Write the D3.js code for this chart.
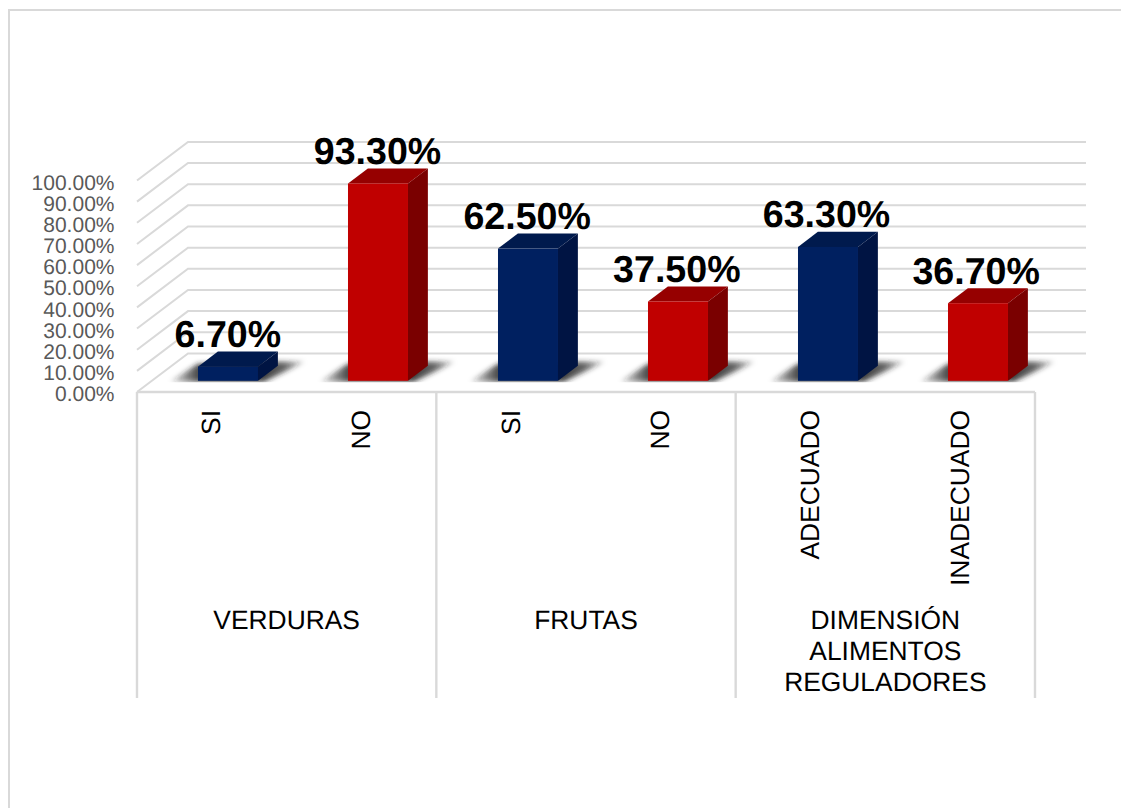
<!DOCTYPE html>
<html><head><meta charset="utf-8">
<script src="https://cdn.jsdelivr.net/npm/d3@7"></script>
<style>html,body{margin:0;padding:0;background:#fff}svg{display:block}text{font-family:"Liberation Sans",Arial,sans-serif;text-rendering:geometricPrecision}</style>
</head><body><svg id="c" width="1121" height="808"></svg>
<script>
const groupLines = [["VERDURAS"],["FRUTAS"],["DIMENSIÓN","ALIMENTOS","REGULADORES"]];
const groupSpans = [2,2,2];
const categories = ["SI","NO","SI","NO","ADECUADO","INADECUADO"];
const values = [6.7,93.3,62.5,37.5,63.3,36.7];
const labels = ["6.70%","93.30%","62.50%","37.50%","63.30%","36.70%"];
const palette = {blue:["#002060","#001a4d","#001443"],red:["#c00000","#960000","#7a0000"]};
const barColors = ["blue","red","blue","red","blue","red"];
const ticks = [0,10,20,30,40,50,60,70,80,90,100];

const svg = d3.select("#c");
const x = d3.scaleBand().domain(d3.range(categories.length)).range([138.2,1038.2]).paddingInner(0.6).paddingOuter(0.3);
const y = d3.scaleLinear().domain([0,100]).range([392,180.5]);
const dx = 51, dy = -38.6;          // oblique projection of full depth
const d0 = 0.29, d1 = 0.68;         // bar depth span
const px = (xv,d)=>xv+d*dx, py=(yv,d)=>yv+d*dy;
const pts = a=>a.map(p=>p.join(",")).join(" ");

const defs = svg.append("defs");
const blur = defs.append("filter").attr("id","b").attr("x","-30%").attr("y","-60%").attr("width","160%").attr("height","220%");
blur.append("feGaussianBlur").attr("stdDeviation",2.6);
const grad = defs.append("linearGradient").attr("id","sh").attr("x1",0).attr("x2",1).attr("y1",0).attr("y2",0);
[[0,0.1],[0.2,0.8],[0.65,0.9],[0.85,0.7],[1,0.15]].forEach(s=>grad.append("stop").attr("offset",s[0]).attr("stop-color","#222").attr("stop-opacity",s[1]));

// chart frame: only the top and left edges are visible
svg.append("line").attr("x1",9).attr("x2",1121).attr("y1",10).attr("y2",10).attr("stroke","#d9d9d9").attr("stroke-width",2);
svg.append("line").attr("x1",9).attr("x2",9).attr("y1",9).attr("y2",808).attr("stroke","#d9d9d9").attr("stroke-width",2);

// gridlines
const grid = svg.append("g").attr("fill","none").attr("stroke","#d9d9d9").attr("stroke-width",2);
ticks.forEach(t=>{
  grid.append("polyline").attr("points",pts([[137,y(t)],[137+dx,y(t)+dy],[1035+dx,y(t)+dy]]));
});
// category axis
const ax = svg.append("g").attr("stroke","#d9d9d9").attr("stroke-width",2.4).attr("fill","none");
ax.append("line").attr("x1",137).attr("x2",1035).attr("y1",y(0)).attr("y2",y(0));
const step=(1035-137)/categories.length;
let acc=0;
ax.append("line").attr("x1",137).attr("x2",137).attr("y1",y(0)).attr("y2",698);
groupSpans.forEach(s=>{acc+=s;const X=137+acc*step;ax.append("line").attr("x1",X).attr("x2",X).attr("y1",y(0)).attr("y2",698);});

// y axis labels
const axis = d3.axisLeft(y).tickValues(ticks).tickFormat(d=>d.toFixed(2)+"%").tickSize(0).tickPadding(0);
const ag = svg.append("g").attr("transform","translate(114.5,2)").call(axis);
ag.select(".domain").remove();
ag.selectAll("text").attr("fill","#595959").style("font-size","21px").style("font-family",'"Liberation Sans",Arial,sans-serif');

// bars
values.forEach((v,i)=>{
  const xl=x(i), xr=xl+x.bandwidth();
  const c=palette[barColors[i]];
  const base=y(0), top=y(v);
  const fl=px(xl,d0), fr=px(xr,d0), bl=px(xl,d1), br=px(xr,d1);
  const fb=py(base,d0), ft=py(top,d0), bb=py(base,d1), bt=py(top,d1);
  const tx=137+step*(i+0.5);
  // shadow on the floor
  const cid="cl"+i;
  defs.append("clipPath").attr("id",cid).append("rect").attr("x",fl-60).attr("y",fb-40).attr("width",fr-fl+160).attr("height",41.5);
  svg.append("g").attr("clip-path",`url(#${cid})`).append("polygon")
    .attr("points",pts([[fl-28,fb+1],[fr+6,fb+1],[br+27,bb-4],[br-6,bb-4],[fl,fb-17]]))
    .attr("fill","url(#sh)").attr("filter","url(#b)");
  // faces
  svg.append("polygon").attr("points",pts([[fl,ft],[fr,ft],[br,bt],[bl,bt]])).attr("fill",c[1]);
  svg.append("polygon").attr("points",pts([[fr,fb],[br,bb],[br,bt],[fr,ft]])).attr("fill",c[2]);
  svg.append("rect").attr("x",fl).attr("y",ft).attr("width",fr-fl).attr("height",fb-ft).attr("fill",c[0]);
  // value label
  svg.append("text").attr("x",tx+16).attr("y",bt-4.5).attr("text-anchor","middle")
    .attr("font-weight","bold").attr("font-size",37.6).attr("fill","#000").text(labels[i]);
  // category label
  svg.append("text").attr("transform",`translate(${tx+8.5},410) rotate(-90)`).attr("text-anchor","end")
    .attr("font-size",26.4).attr("fill","#000").text(categories[i]);
});

// group labels
let start=0;
groupLines.forEach((lines,g)=>{
  const cx=137+(start+groupSpans[g]/2)*step; start+=groupSpans[g];
  lines.forEach((l,j)=>{
    svg.append("text").attr("x",cx).attr("y",628.5+j*31).attr("text-anchor","middle").attr("font-size",26.4).attr("fill","#000").text(l);
  });
});
</script></body></html>
